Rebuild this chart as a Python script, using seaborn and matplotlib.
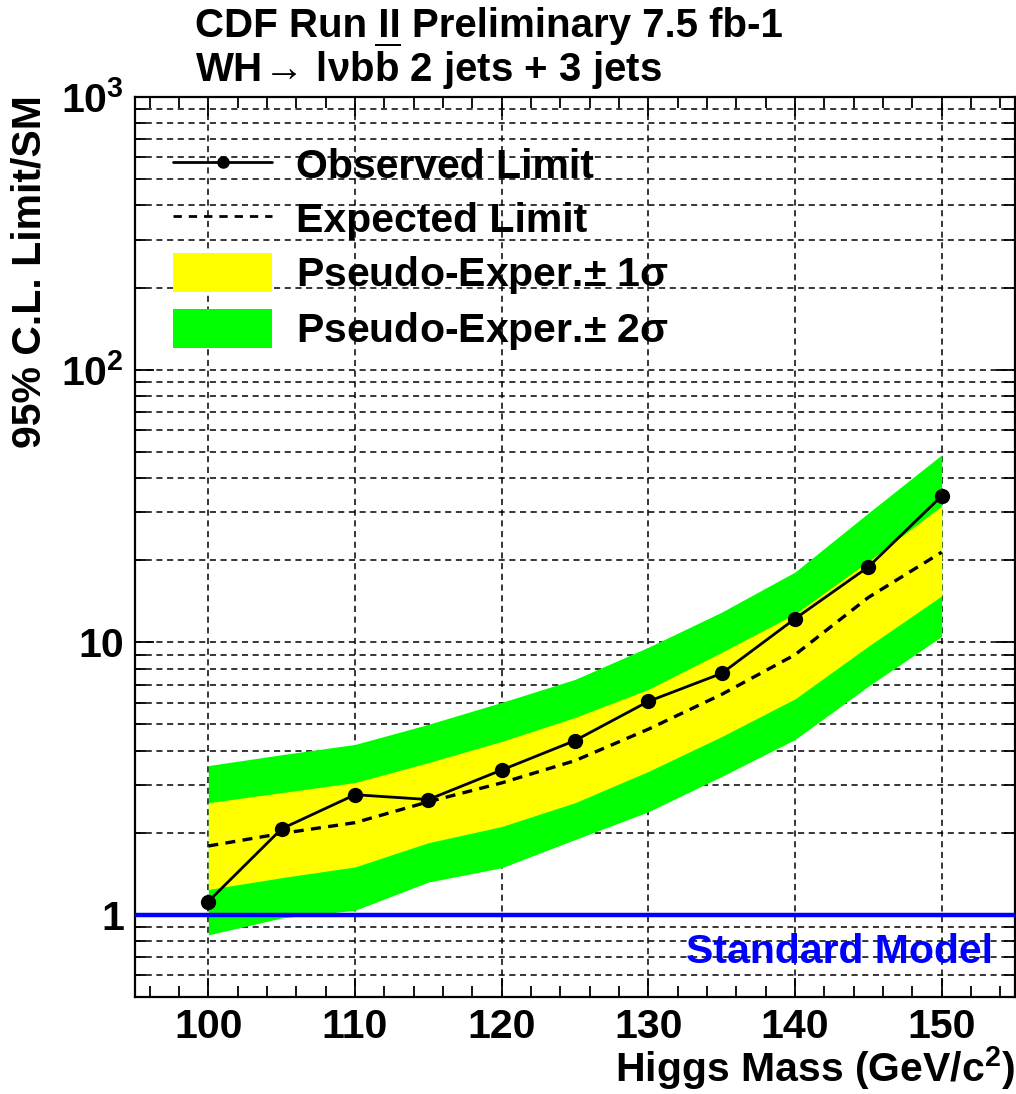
import numpy as np
import pandas as pd
import matplotlib
matplotlib.use("Agg")
import matplotlib.pyplot as plt
import seaborn as sns
from matplotlib.lines import Line2D
from matplotlib.patches import Patch
from matplotlib.ticker import FixedLocator, LogLocator, NullFormatter, FixedFormatter

mass = [100, 105, 110, 115, 120, 125, 130, 135, 140, 145, 150]
observed = [1.12, 2.07, 2.76, 2.65, 3.40, 4.36, 6.07, 7.69, 12.2, 18.9, 34.4]
expected = [1.79, 1.99, 2.18, 2.60, 3.05, 3.68, 4.80, 6.44, 9.0, 14.6, 21.4]
minus2 = [0.845, 0.975, 1.04, 1.32, 1.49, 1.89, 2.39, 3.22, 4.40, 6.9, 10.5]
minus1 = [1.24, 1.37, 1.50, 1.84, 2.11, 2.58, 3.36, 4.51, 6.2, 9.67, 14.8]
plus1 = [2.58, 2.81, 3.06, 3.62, 4.33, 5.30, 6.72, 9.19, 12.7, 19.8, 31.6]
plus2 = [3.53, 3.87, 4.22, 5.0, 6.02, 7.31, 9.59, 12.9, 18.1, 29.8, 48.7]
sm_level = 1.0

x_ticks = [100, 110, 120, 130, 140, 150]
y_ticks = [1, 10, 100, 1000]
y_ticklabels = ["1", "10", r"$\mathbf{10^{2}}$", r"$\mathbf{10^{3}}$"]

df = pd.DataFrame({"mass": mass, "observed": observed, "expected": expected})

sns.set_style("ticks")
plt.rcParams["font.family"] = ["Liberation Sans", "DejaVu Sans"]
plt.rcParams["font.weight"] = "bold"
plt.rcParams["text.color"] = "black"
plt.rcParams["axes.labelcolor"] = "black"
plt.rcParams["xtick.color"] = "black"
plt.rcParams["ytick.color"] = "black"
plt.rcParams["mathtext.fontset"] = "custom"
plt.rcParams["mathtext.rm"] = "Liberation Sans"
plt.rcParams["mathtext.bf"] = "Liberation Sans:bold"
plt.rcParams["mathtext.it"] = "Liberation Sans:italic"
plt.rcParams["mathtext.sf"] = "Liberation Sans"

YELLOW = "#ffff00"
GREEN = "#00ff00"
DASH = (0, (4, 3))
FS = 29.5

fig = plt.figure(figsize=(10.16, 10.94), dpi=100)
ax = fig.add_axes([135 / 1016, 1 - 997 / 1094, 880 / 1016, 900 / 1094])

ax.set_yscale("log")
ax.set_xlim(95, 155)
ax.set_ylim(0.5, 1000)

ax.fill_between(mass, minus2, plus2, color=GREEN, linewidth=0, zorder=1)
ax.fill_between(mass, minus1, plus1, color=YELLOW, linewidth=0, zorder=1.1)

sns.lineplot(data=df, x="mass", y="expected", ax=ax, color="black",
             linewidth=2.4, linestyle=(0, (3, 2.2)), zorder=3)
sns.lineplot(data=df, x="mass", y="observed", ax=ax, color="black",
             linewidth=2.0, marker="o", markersize=11, markeredgewidth=0,
             zorder=4)

ax.axhline(sm_level, color="#0000ff", linewidth=3.2, zorder=5)
ax.text(0.975, 0.038, "Standard Model", transform=ax.transAxes, ha="right",
        va="baseline", color="#0000ff", fontsize=FS, fontweight="bold", zorder=6)

# grid: dashed lines at x majors and at every log tick in y
ax.set_axisbelow(True)
ax.xaxis.set_major_locator(FixedLocator(x_ticks))
ax.xaxis.set_minor_locator(FixedLocator(np.arange(96, 155, 2)))
ax.yaxis.set_major_locator(FixedLocator(y_ticks))
ax.yaxis.set_major_formatter(FixedFormatter(y_ticklabels))
ax.yaxis.set_minor_locator(LogLocator(base=10, subs=np.arange(2, 10), numticks=20))
ax.yaxis.set_minor_formatter(NullFormatter())
ax.grid(which="major", axis="x", color="black", linestyle=DASH, linewidth=1.1)
ax.grid(which="both", axis="y", color="black", linestyle=DASH, linewidth=1.1)

for s in ax.spines.values():
    s.set_linewidth(1.6)
    s.set_color("black")

ax.tick_params(which="both", direction="in", top=True, right=True, width=1.3,
               colors="black")
ax.tick_params(which="major", length=14, labelsize=FS, pad=8)
ax.tick_params(which="minor", length=8)
for lab in ax.get_xticklabels() + ax.get_yticklabels():
    lab.set_fontweight("bold")

ax.set_xlabel("")
ax.set_ylabel("")
fig.text(1015 / 1016, 1 - 1082 / 1094, r"Higgs Mass (GeV/c$^{\mathbf{2}}$)",
         ha="right", va="baseline", fontsize=FS, fontweight="bold")
fig.text(30 / 1016, 1 - 95 / 1094, "95% C.L. Limit/SM", rotation=90,
         ha="center", va="top", fontsize=FS, fontweight="bold")

fig.text(195 / 1016, 1 - 37 / 1094, "CDF Run II Preliminary 7.5 fb-1",
         ha="left", va="baseline", fontsize=29, fontweight="bold")
fig.text(195 / 1016, 1 - 82 / 1094,
         r"WH$\!\rightarrow\!$ l$\mathrm{\nu}$b$\overline{\mathbf{b}}$ 2 jets + 3 jets",
         ha="left", va="baseline", fontsize=29, fontweight="bold")

handles = [
    Line2D([], [], color="black", linewidth=2.0, marker="o", markersize=8),
    Line2D([], [], color="black", linewidth=2.0, linestyle=(0, (3, 2.5))),
    Patch(facecolor=YELLOW, edgecolor="none"),
    Patch(facecolor=GREEN, edgecolor="none"),
]
labels = ["Observed Limit", "Expected Limit",
          r"Pseudo-Exper.$\pm$ 1$\mathrm{\sigma}$",
          r"Pseudo-Exper.$\pm$ 2$\mathrm{\sigma}$"]
leg = ax.legend(handles, labels, loc="upper left", bbox_to_anchor=(0.025, 0.965),
                frameon=False, fontsize=FS, handlelength=2.4, handleheight=1.1,
                handletextpad=0.6, labelspacing=0.3, borderaxespad=0)
for t in leg.get_texts():
    t.set_fontweight("bold")

fig.savefig("out.png", dpi=100, facecolor="white")
